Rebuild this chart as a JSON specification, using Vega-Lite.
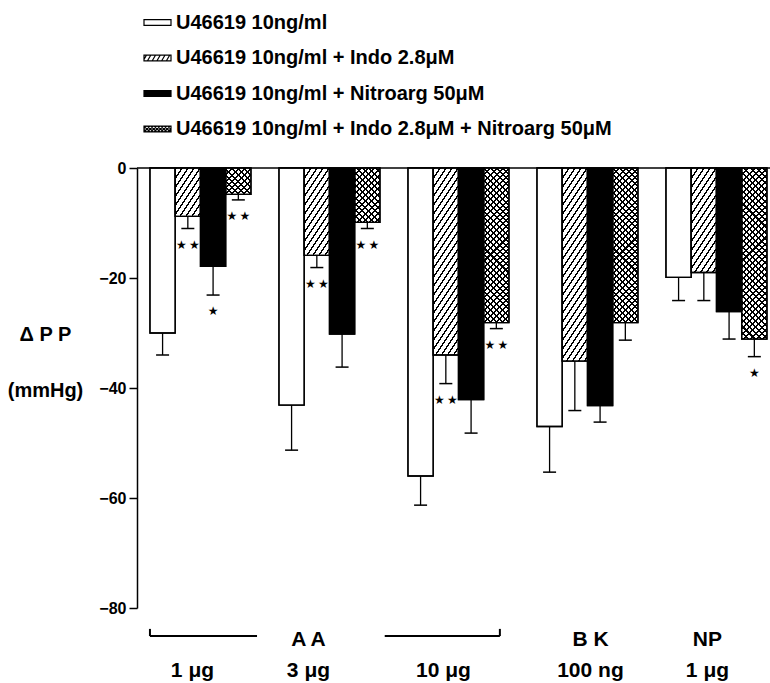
{
"$schema": "https://vega.github.io/schema/vega-lite/v6.json",
"width": 633,
"height": 440,
"autosize": {"type": "none"},
"padding": {"left": 137, "top": 168, "right": 0, "bottom": 75},
"background": "white",
"config": {
  "view": {"stroke": null},
  "font": "Liberation Sans",
  "axis": {"grid": false, "domainColor": "black", "tickColor": "black", "labelColor": "black", "titleColor": "black"}
},
"params": [
{"name": "hs", "value": [
{"offset":0,"color":"#000"},{"offset":0.01,"color":"#000"},{"offset":0.01,"color":"transparent"},{"offset":0.036,"color":"transparent"},
{"offset":0.036,"color":"#000"},{"offset":0.046,"color":"#000"},{"offset":0.046,"color":"transparent"},{"offset":0.072,"color":"transparent"},
{"offset":0.072,"color":"#000"},{"offset":0.082,"color":"#000"},{"offset":0.082,"color":"transparent"},{"offset":0.108,"color":"transparent"},
{"offset":0.108,"color":"#000"},{"offset":0.118,"color":"#000"},{"offset":0.118,"color":"transparent"},{"offset":0.144,"color":"transparent"},
{"offset":0.144,"color":"#000"},{"offset":0.154,"color":"#000"},{"offset":0.154,"color":"transparent"},{"offset":0.18,"color":"transparent"},
{"offset":0.18,"color":"#000"},{"offset":0.19,"color":"#000"},{"offset":0.19,"color":"transparent"},{"offset":0.216,"color":"transparent"},
{"offset":0.216,"color":"#000"},{"offset":0.226,"color":"#000"},{"offset":0.226,"color":"transparent"},{"offset":0.252,"color":"transparent"},
{"offset":0.252,"color":"#000"},{"offset":0.262,"color":"#000"},{"offset":0.262,"color":"transparent"},{"offset":0.288,"color":"transparent"},
{"offset":0.288,"color":"#000"},{"offset":0.298,"color":"#000"},{"offset":0.298,"color":"transparent"},{"offset":0.324,"color":"transparent"},
{"offset":0.324,"color":"#000"},{"offset":0.334,"color":"#000"},{"offset":0.334,"color":"transparent"},{"offset":0.36,"color":"transparent"},
{"offset":0.36,"color":"#000"},{"offset":0.37,"color":"#000"},{"offset":0.37,"color":"transparent"},{"offset":0.396,"color":"transparent"},
{"offset":0.396,"color":"#000"},{"offset":0.406,"color":"#000"},{"offset":0.406,"color":"transparent"},{"offset":0.432,"color":"transparent"},
{"offset":0.432,"color":"#000"},{"offset":0.442,"color":"#000"},{"offset":0.442,"color":"transparent"},{"offset":0.468,"color":"transparent"},
{"offset":0.468,"color":"#000"},{"offset":0.478,"color":"#000"},{"offset":0.478,"color":"transparent"},{"offset":0.504,"color":"transparent"},
{"offset":0.504,"color":"#000"},{"offset":0.514,"color":"#000"},{"offset":0.514,"color":"transparent"},{"offset":0.54,"color":"transparent"},
{"offset":0.54,"color":"#000"},{"offset":0.55,"color":"#000"},{"offset":0.55,"color":"transparent"},{"offset":0.576,"color":"transparent"},
{"offset":0.576,"color":"#000"},{"offset":0.586,"color":"#000"},{"offset":0.586,"color":"transparent"},{"offset":0.612,"color":"transparent"},
{"offset":0.612,"color":"#000"},{"offset":0.622,"color":"#000"},{"offset":0.622,"color":"transparent"},{"offset":0.648,"color":"transparent"},
{"offset":0.648,"color":"#000"},{"offset":0.658,"color":"#000"},{"offset":0.658,"color":"transparent"},{"offset":0.684,"color":"transparent"},
{"offset":0.684,"color":"#000"},{"offset":0.694,"color":"#000"},{"offset":0.694,"color":"transparent"},{"offset":0.72,"color":"transparent"},
{"offset":0.72,"color":"#000"},{"offset":0.73,"color":"#000"},{"offset":0.73,"color":"transparent"},{"offset":0.756,"color":"transparent"},
{"offset":0.756,"color":"#000"},{"offset":0.766,"color":"#000"},{"offset":0.766,"color":"transparent"},{"offset":0.792,"color":"transparent"},
{"offset":0.792,"color":"#000"},{"offset":0.802,"color":"#000"},{"offset":0.802,"color":"transparent"},{"offset":0.828,"color":"transparent"},
{"offset":0.828,"color":"#000"},{"offset":0.838,"color":"#000"},{"offset":0.838,"color":"transparent"},{"offset":0.864,"color":"transparent"},
{"offset":0.864,"color":"#000"},{"offset":0.874,"color":"#000"},{"offset":0.874,"color":"transparent"},{"offset":0.9,"color":"transparent"},
{"offset":0.9,"color":"#000"},{"offset":0.91,"color":"#000"},{"offset":0.91,"color":"transparent"},{"offset":0.936,"color":"transparent"},
{"offset":0.936,"color":"#000"},{"offset":0.946,"color":"#000"},{"offset":0.946,"color":"transparent"}
]},
{"name": "xs", "value": [
{"offset":0,"color":"#000"},{"offset":0.01,"color":"#000"},{"offset":0.01,"color":"transparent"},{"offset":0.03,"color":"transparent"},
{"offset":0.03,"color":"#000"},{"offset":0.04,"color":"#000"},{"offset":0.04,"color":"transparent"},{"offset":0.06,"color":"transparent"},
{"offset":0.06,"color":"#000"},{"offset":0.07,"color":"#000"},{"offset":0.07,"color":"transparent"},{"offset":0.09,"color":"transparent"},
{"offset":0.09,"color":"#000"},{"offset":0.1,"color":"#000"},{"offset":0.1,"color":"transparent"},{"offset":0.12,"color":"transparent"},
{"offset":0.12,"color":"#000"},{"offset":0.13,"color":"#000"},{"offset":0.13,"color":"transparent"},{"offset":0.15,"color":"transparent"},
{"offset":0.15,"color":"#000"},{"offset":0.16,"color":"#000"},{"offset":0.16,"color":"transparent"},{"offset":0.18,"color":"transparent"},
{"offset":0.18,"color":"#000"},{"offset":0.19,"color":"#000"},{"offset":0.19,"color":"transparent"},{"offset":0.21,"color":"transparent"},
{"offset":0.21,"color":"#000"},{"offset":0.22,"color":"#000"},{"offset":0.22,"color":"transparent"},{"offset":0.24,"color":"transparent"},
{"offset":0.24,"color":"#000"},{"offset":0.25,"color":"#000"},{"offset":0.25,"color":"transparent"},{"offset":0.27,"color":"transparent"},
{"offset":0.27,"color":"#000"},{"offset":0.28,"color":"#000"},{"offset":0.28,"color":"transparent"},{"offset":0.3,"color":"transparent"},
{"offset":0.3,"color":"#000"},{"offset":0.31,"color":"#000"},{"offset":0.31,"color":"transparent"},{"offset":0.33,"color":"transparent"},
{"offset":0.33,"color":"#000"},{"offset":0.34,"color":"#000"},{"offset":0.34,"color":"transparent"},{"offset":0.36,"color":"transparent"},
{"offset":0.36,"color":"#000"},{"offset":0.37,"color":"#000"},{"offset":0.37,"color":"transparent"},{"offset":0.39,"color":"transparent"},
{"offset":0.39,"color":"#000"},{"offset":0.4,"color":"#000"},{"offset":0.4,"color":"transparent"},{"offset":0.42,"color":"transparent"},
{"offset":0.42,"color":"#000"},{"offset":0.43,"color":"#000"},{"offset":0.43,"color":"transparent"},{"offset":0.45,"color":"transparent"},
{"offset":0.45,"color":"#000"},{"offset":0.46,"color":"#000"},{"offset":0.46,"color":"transparent"},{"offset":0.48,"color":"transparent"},
{"offset":0.48,"color":"#000"},{"offset":0.49,"color":"#000"},{"offset":0.49,"color":"transparent"},{"offset":0.51,"color":"transparent"},
{"offset":0.51,"color":"#000"},{"offset":0.52,"color":"#000"},{"offset":0.52,"color":"transparent"},{"offset":0.54,"color":"transparent"},
{"offset":0.54,"color":"#000"},{"offset":0.55,"color":"#000"},{"offset":0.55,"color":"transparent"},{"offset":0.57,"color":"transparent"},
{"offset":0.57,"color":"#000"},{"offset":0.58,"color":"#000"},{"offset":0.58,"color":"transparent"},{"offset":0.6,"color":"transparent"},
{"offset":0.6,"color":"#000"},{"offset":0.61,"color":"#000"},{"offset":0.61,"color":"transparent"},{"offset":0.63,"color":"transparent"},
{"offset":0.63,"color":"#000"},{"offset":0.64,"color":"#000"},{"offset":0.64,"color":"transparent"},{"offset":0.66,"color":"transparent"},
{"offset":0.66,"color":"#000"},{"offset":0.67,"color":"#000"},{"offset":0.67,"color":"transparent"},{"offset":0.69,"color":"transparent"},
{"offset":0.69,"color":"#000"},{"offset":0.7,"color":"#000"},{"offset":0.7,"color":"transparent"},{"offset":0.72,"color":"transparent"},
{"offset":0.72,"color":"#000"},{"offset":0.73,"color":"#000"},{"offset":0.73,"color":"transparent"},{"offset":0.75,"color":"transparent"},
{"offset":0.75,"color":"#000"},{"offset":0.76,"color":"#000"},{"offset":0.76,"color":"transparent"},{"offset":0.78,"color":"transparent"},
{"offset":0.78,"color":"#000"},{"offset":0.79,"color":"#000"},{"offset":0.79,"color":"transparent"},{"offset":0.81,"color":"transparent"},
{"offset":0.81,"color":"#000"},{"offset":0.82,"color":"#000"},{"offset":0.82,"color":"transparent"},{"offset":0.84,"color":"transparent"},
{"offset":0.84,"color":"#000"},{"offset":0.85,"color":"#000"},{"offset":0.85,"color":"transparent"},{"offset":0.87,"color":"transparent"},
{"offset":0.87,"color":"#000"},{"offset":0.88,"color":"#000"},{"offset":0.88,"color":"transparent"},{"offset":0.9,"color":"transparent"},
{"offset":0.9,"color":"#000"},{"offset":0.91,"color":"#000"},{"offset":0.91,"color":"transparent"},{"offset":0.93,"color":"transparent"},
{"offset":0.93,"color":"#000"},{"offset":0.94,"color":"#000"},{"offset":0.94,"color":"transparent"},{"offset":0.96,"color":"transparent"},
{"offset":0.96,"color":"#000"},{"offset":0.97,"color":"#000"},{"offset":0.97,"color":"transparent"}
]}
],
"data": {"values": [
{"group":"AA 1 μg","series":"U46619 10ng/ml","value":-30,"err":-34,"sig":""},
{"group":"AA 1 μg","series":"U46619 10ng/ml + Indo 2.8μM","value":-8.8,"err":-11,"sig":"**"},
{"group":"AA 1 μg","series":"U46619 10ng/ml + Nitroarg 50μM","value":-17.9,"err":-23.1,"sig":"*"},
{"group":"AA 1 μg","series":"U46619 10ng/ml + Indo 2.8μM + Nitroarg 50μM","value":-4.8,"err":-5.8,"sig":"**"},
{"group":"AA 3 μg","series":"U46619 10ng/ml","value":-43.1,"err":-51.3,"sig":""},
{"group":"AA 3 μg","series":"U46619 10ng/ml + Indo 2.8μM","value":-15.9,"err":-18.1,"sig":"**"},
{"group":"AA 3 μg","series":"U46619 10ng/ml + Nitroarg 50μM","value":-30.2,"err":-36.2,"sig":""},
{"group":"AA 3 μg","series":"U46619 10ng/ml + Indo 2.8μM + Nitroarg 50μM","value":-9.9,"err":-11,"sig":"**"},
{"group":"AA 10 μg","series":"U46619 10ng/ml","value":-56,"err":-61.3,"sig":""},
{"group":"AA 10 μg","series":"U46619 10ng/ml + Indo 2.8μM","value":-34,"err":-39.2,"sig":"**"},
{"group":"AA 10 μg","series":"U46619 10ng/ml + Nitroarg 50μM","value":-42.1,"err":-48.2,"sig":""},
{"group":"AA 10 μg","series":"U46619 10ng/ml + Indo 2.8μM + Nitroarg 50μM","value":-28.1,"err":-29.2,"sig":"**"},
{"group":"BK 100 ng","series":"U46619 10ng/ml","value":-47,"err":-55.3,"sig":""},
{"group":"BK 100 ng","series":"U46619 10ng/ml + Indo 2.8μM","value":-35.1,"err":-44.1,"sig":""},
{"group":"BK 100 ng","series":"U46619 10ng/ml + Nitroarg 50μM","value":-43.2,"err":-46.2,"sig":""},
{"group":"BK 100 ng","series":"U46619 10ng/ml + Indo 2.8μM + Nitroarg 50μM","value":-28.1,"err":-31.3,"sig":""},
{"group":"NP 1 μg","series":"U46619 10ng/ml","value":-19.9,"err":-24.1,"sig":""},
{"group":"NP 1 μg","series":"U46619 10ng/ml + Indo 2.8μM","value":-19,"err":-24.1,"sig":""},
{"group":"NP 1 μg","series":"U46619 10ng/ml + Nitroarg 50μM","value":-26.1,"err":-31.1,"sig":""},
{"group":"NP 1 μg","series":"U46619 10ng/ml + Indo 2.8μM + Nitroarg 50μM","value":-31.1,"err":-34.3,"sig":"*"}
]},
"layer": [
{
  "data": {"values": [{"v": 0}]},
  "mark": {"type": "rule", "strokeWidth": 1.5, "color": "black"},
  "encoding": {"y": {"field": "v", "type": "quantitative"}}
},
{
  "mark": {"type": "rule", "strokeWidth": 1.3, "color": "black"},
  "encoding": {
    "x": {"field": "group", "type": "nominal"},
    "xOffset": {"field": "series", "type": "nominal"},
    "y": {"field": "value", "type": "quantitative"},
    "y2": {"field": "err"}
  }
},
{
  "mark": {"type": "tick", "orient": "horizontal", "size": 13, "thickness": 1.5, "color": "black", "opacity": 1},
  "encoding": {
    "x": {"field": "group", "type": "nominal"},
    "xOffset": {"field": "series", "type": "nominal"},
    "y": {"field": "err", "type": "quantitative"}
  }
},
{
  "mark": {"type": "bar", "stroke": "black", "strokeWidth": 1.3},
  "encoding": {
    "x": {"field": "group", "type": "nominal",
      "scale": {"type": "band", "domain": ["AA 1 μg","AA 3 μg","AA 10 μg","BK 100 ng","NP 1 μg"], "paddingInner": 0.217, "paddingOuter": 0.062, "align": 0.81},
      "axis": {"orient": "bottom", "domain": false, "ticks": false, "title": null, "labelAngle": 0, "labelAlign": "center",
        "labelFont": "Liberation Sans", "labelFontSize": 21, "labelFontWeight": "bold", "labelColor": "black",
        "labelPadding": 20, "labelLineHeight": 31, "labelBaseline": "top", "labelOverlap": false, "labelBound": false,
        "labelExpr": "datum.value == 'AA 1 μg' ? ['', '1 μg'] : datum.value == 'AA 3 μg' ? ['A A', '3 μg'] : datum.value == 'AA 10 μg' ? ['', '10 μg'] : datum.value == 'BK 100 ng' ? ['B K', '100 ng'] : ['NP', '1 μg']",
        "labelOffset": {"condition": [
          {"test": "datum.value == 'AA 1 μg'", "value": -8},
          {"test": "datum.value == 'AA 3 μg'", "value": -21},
          {"test": "datum.value == 'AA 10 μg'", "value": -15},
          {"test": "datum.value == 'BK 100 ng'", "value": 3}
        ], "value": -9}
      }
    },
    "xOffset": {"field": "series", "type": "nominal",
      "scale": {"domain": ["U46619 10ng/ml","U46619 10ng/ml + Indo 2.8μM","U46619 10ng/ml + Nitroarg 50μM","U46619 10ng/ml + Indo 2.8μM + Nitroarg 50μM"], "paddingInner": 0, "paddingOuter": 0}
    },
    "y": {"field": "value", "type": "quantitative",
      "scale": {"domain": [-80, 0], "nice": false, "zero": false},
      "axis": {"values": [0, -20, -40, -60, -80], "tickSize": 8, "tickWidth": 1.5, "domainWidth": 1.5,
        "labelFont": "Liberation Sans", "labelFontSize": 16, "labelFontWeight": "bold", "labelPadding": 3,
        "title": ["Δ P P", "(mmHg)"], "titleFont": "Liberation Sans", "titleFontSize": 20, "titleFontWeight": "bold",
        "titleAngle": 0, "titleAlign": "center", "titleBaseline": "alphabetic", "titleX": -92, "titleY": 172, "titleLineHeight": 56}
    },
    "fill": {"field": "series", "type": "nominal",
      "scale": {"domain": ["U46619 10ng/ml","U46619 10ng/ml + Indo 2.8μM","U46619 10ng/ml + Nitroarg 50μM","U46619 10ng/ml + Indo 2.8μM + Nitroarg 50μM"], "range": ["white","white","black","white"]},
      "legend": {"orient": "none", "legendX": 6, "legendY": -160, "direction": "vertical", "title": null,
        "labelFont": "Liberation Sans", "labelFontSize": 20, "labelFontWeight": "bold", "labelColor": "black", "labelLimit": 700,
        "labelOffset": 4, "symbolSize": 729, "symbolStrokeWidth": 1.2, "symbolStrokeColor": "black", "rowPadding": 10.5, "padding": 0}
    }
  }
},
{
  "transform": [{"filter": "datum.series == 'U46619 10ng/ml + Indo 2.8μM'"}],
  "mark": {"type": "bar"},
  "encoding": {
    "x": {"field": "group", "type": "nominal"},
    "xOffset": {"field": "series", "type": "nominal"},
    "y": {"field": "value", "type": "quantitative"},
    "fill": {"value": {"expr": "{gradient:'linear',x1:0,y1:0,x2:375*bandwidth('xOffset')/(2.25*pow(bandwidth('xOffset'),2)+pow(scale('y',datum.value)-scale('y',0),2)),y2:250*(scale('y',datum.value)-scale('y',0))/(2.25*pow(bandwidth('xOffset'),2)+pow(scale('y',datum.value)-scale('y',0),2)),stops:hs}"}}
  }
},
{
  "transform": [{"filter": "datum.series == 'U46619 10ng/ml + Indo 2.8μM + Nitroarg 50μM'"}],
  "mark": {"type": "bar"},
  "encoding": {
    "x": {"field": "group", "type": "nominal"},
    "xOffset": {"field": "series", "type": "nominal"},
    "y": {"field": "value", "type": "quantitative"},
    "fill": {"value": {"expr": "{gradient:'linear',x1:0,y1:0,x2:205*bandwidth('xOffset')/(pow(bandwidth('xOffset'),2)+pow(scale('y',datum.value)-scale('y',0),2)),y2:205*(scale('y',datum.value)-scale('y',0))/(pow(bandwidth('xOffset'),2)+pow(scale('y',datum.value)-scale('y',0),2)),stops:xs}"}}
  }
},
{
  "transform": [{"filter": "datum.series == 'U46619 10ng/ml + Indo 2.8μM + Nitroarg 50μM'"}],
  "mark": {"type": "bar"},
  "encoding": {
    "x": {"field": "group", "type": "nominal"},
    "xOffset": {"field": "series", "type": "nominal"},
    "y": {"field": "value", "type": "quantitative"},
    "fill": {"value": {"expr": "{gradient:'linear',x1:0,y1:1,x2:205*bandwidth('xOffset')/(pow(bandwidth('xOffset'),2)+pow(scale('y',datum.value)-scale('y',0),2)),y2:1-205*(scale('y',datum.value)-scale('y',0))/(pow(bandwidth('xOffset'),2)+pow(scale('y',datum.value)-scale('y',0),2)),stops:xs}"}}
  }
},
{
  "mark": {"type": "bar", "fill": "transparent", "stroke": "black", "strokeWidth": 1.3},
  "encoding": {
    "x": {"field": "group", "type": "nominal"},
    "xOffset": {"field": "series", "type": "nominal"},
    "y": {"field": "value", "type": "quantitative"}
  }
},
{
  "transform": [
    {"filter": "datum.sig != ''"},
    {"calculate": "replace(replace(datum.sig, '**', '★\u2009★'), '*', '★')", "as": "star"}
  ],
  "mark": {"type": "text", "font": "DejaVu Sans", "fontSize": 12, "dy": 16, "baseline": "middle", "color": "black"},
  "encoding": {
    "x": {"field": "group", "type": "nominal"},
    "xOffset": {"field": "series", "type": "nominal"},
    "y": {"field": "err", "type": "quantitative"},
    "text": {"field": "star"}
  }
},
{
  "data": {"values": [{"group": "AA 1 μg"}]},
  "mark": {"type": "rule", "strokeWidth": 2, "color": "black"},
  "encoding": {
    "x": {"field": "group", "type": "nominal", "bandPosition": 0},
    "x2": {"field": "group", "bandPosition": 1.06},
    "y": {"datum": -85.1}
  }
},
{
  "data": {"values": [{"group": "AA 1 μg"}]},
  "mark": {"type": "rule", "strokeWidth": 2, "color": "black"},
  "encoding": {
    "x": {"field": "group", "type": "nominal", "bandPosition": 0},
    "y": {"datum": -85.1},
    "y2": {"datum": -83.8}
  }
},
{
  "data": {"values": [{"group": "AA 10 μg"}]},
  "mark": {"type": "rule", "strokeWidth": 2, "color": "black"},
  "encoding": {
    "x": {"field": "group", "type": "nominal", "bandPosition": -0.23},
    "x2": {"field": "group", "bandPosition": 0.91},
    "y": {"datum": -85.1}
  }
},
{
  "data": {"values": [{"group": "AA 10 μg"}]},
  "mark": {"type": "rule", "strokeWidth": 2, "color": "black"},
  "encoding": {
    "x": {"field": "group", "type": "nominal", "bandPosition": 0.91},
    "y": {"datum": -85.1},
    "y2": {"datum": -83.8}
  }
},
{
  "transform": [{"filter": "false"}],
  "mark": {"type": "point", "filled": true, "opacity": 1, "stroke": "black"},
  "encoding": {
    "shape": {"field": "series", "type": "nominal",
      "scale": {"domain": ["U46619 10ng/ml","U46619 10ng/ml + Indo 2.8μM","U46619 10ng/ml + Nitroarg 50μM","U46619 10ng/ml + Indo 2.8μM + Nitroarg 50μM"],
        "range": [
          "M-1,-0.22H1V0.22H-1Z",
          "M-1,-0.22H1V0.22H-1Z M-1,0.1L-0.81,-0.22 M-0.75,0.22L-0.49,-0.22 M-0.4,0.22L-0.14,-0.22 M-0.05,0.22L0.21,-0.22 M0.3,0.22L0.56,-0.22 M0.65,0.22L0.91,-0.22",
          "M-1,-0.22H1V0.22H-1Z",
          "M-1,-0.22H1V0.22H-1Z M-1,0.22L-0.56,-0.22 M-0.75,0.22L-0.31,-0.22 M-0.5,0.22L-0.06,-0.22 M-0.25,0.22L0.19,-0.22 M0,0.22L0.44,-0.22 M0.25,0.22L0.69,-0.22 M0.5,0.22L0.94,-0.22 M-1,-0.03L-0.81,-0.22 M0.75,0.22L1,-0.03 M-1,-0.22L-0.56,0.22 M-0.75,-0.22L-0.31,0.22 M-0.5,-0.22L-0.06,0.22 M-0.25,-0.22L0.19,0.22 M0,-0.22L0.44,0.22 M0.25,-0.22L0.69,0.22 M0.5,-0.22L0.94,0.22 M-1,0.03L-0.81,0.22 M0.75,-0.22L1,0.03"
        ]},
      "legend": {"orient": "none", "legendX": 6, "legendY": -160, "direction": "vertical", "title": null,
        "labelFont": "Liberation Sans", "labelFontSize": 20, "labelFontWeight": "bold", "labelColor": "black", "labelLimit": 700,
        "labelOffset": 4, "symbolSize": 729, "symbolStrokeWidth": 1.2, "symbolStrokeColor": "black", "rowPadding": 10.5, "padding": 0}
    },
    "fill": {"field": "series", "type": "nominal"}
  }
}
]
}
